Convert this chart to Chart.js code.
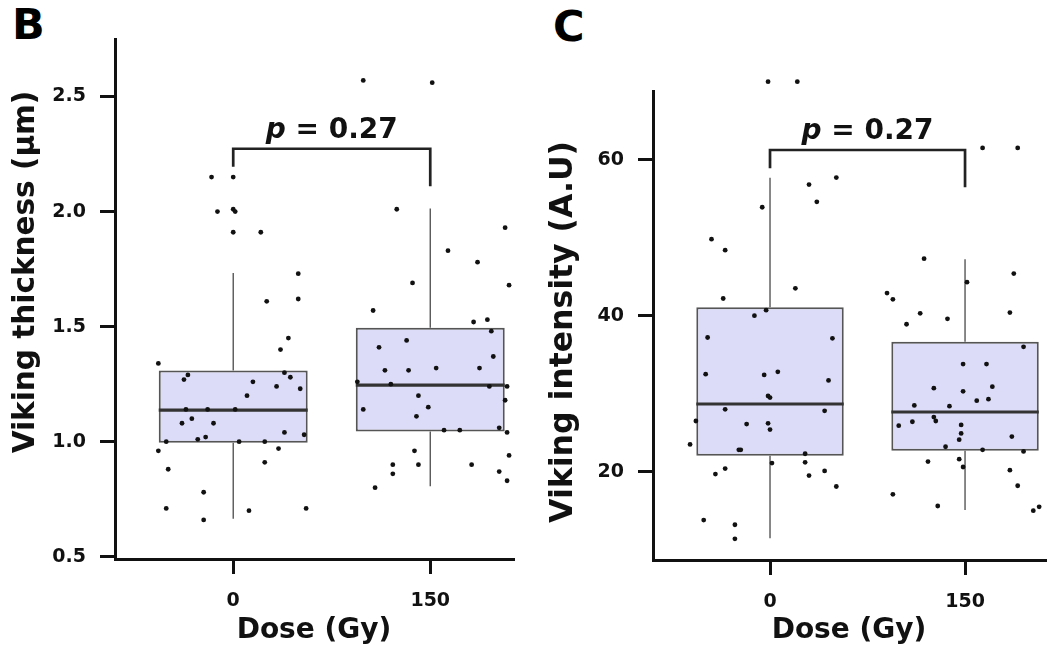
<!DOCTYPE html>
<html>
<head>
<meta charset="utf-8">
<script src="https://cdn.jsdelivr.net/npm/chart.js@4.4.1/dist/chart.umd.min.js"></script>
<style>
  body { margin: 0; background: #fff; width: 1049px; height: 648px; position: relative; overflow: hidden;
         font-family: "DejaVu Sans", Verdana, sans-serif; }
  .panel { position: absolute; top: 0; }
  .tag { position: absolute; font-weight: bold; font-size: 43px; line-height: 1; color: #000; }
</style>
</head>
<body>
<div class="tag" style="left:12px;top:3px">B</div>
<div class="tag" style="left:553px;top:5px">C</div>
<canvas id="chartB" class="panel" style="left:0" width="540" height="648"></canvas>
<canvas id="chartC" class="panel" style="left:540px" width="509" height="648"></canvas>
<script>
const doseLabels = ['0', '150'];

// --- Viking thickness (µm) ---
const thicknessTicks = [0.5, 1.0, 1.5, 2.0, 2.5];
const thicknessLow = [0.665, 0.806];
const thicknessQ1 = [0.995, 1.044];
const thicknessMedian = [1.137, 1.246];
const thicknessQ3 = [1.309, 1.495];
const thicknessHigh = [1.733, 2.013];
const thicknessBracket = [2.195, 2.273, 2.110]; // left foot, bar, right foot
const thicknessP = '0.27';

const thickness0 = [2.15, 2.15, 2.00, 2.01, 2.00, 1.91, 1.91, 1.73, 1.61, 1.62, 1.45, 1.40, 1.34, 1.29, 1.27,
  1.30, 1.28, 1.26, 1.24, 1.23, 1.20, 1.14, 1.14, 1.14, 1.08, 1.10, 1.08, 1.04, 1.03, 1.00, 1.01, 1.02,
  1.00, 1.00, 0.97, 0.96, 0.91, 0.88, 0.78, 0.71, 0.66, 0.70, 0.71];
const thickness0Jitter = [-0.11, 0.00, -0.08, 0.00, 0.01, 0.00, 0.14, 0.33, 0.17, 0.33, 0.28, 0.24, -0.38, -0.23, -0.25,
  0.26, 0.29, 0.10, 0.22, 0.34, 0.07, -0.24, -0.13, 0.01, -0.26, -0.21, -0.10, 0.26, 0.36, -0.34, -0.18, -0.14,
  0.03, 0.16, 0.23, -0.38, 0.16, -0.33, -0.15, -0.34, -0.15, 0.08, 0.37];
const thickness150 = [2.57, 2.56, 2.01, 1.93, 1.83, 1.78, 1.69, 1.68, 1.57, 1.52, 1.53, 1.48, 1.41, 1.44, 1.37,
  1.31, 1.31, 1.32, 1.32, 1.26, 1.25, 1.24, 1.24, 1.20, 1.14, 1.15, 1.18, 1.11, 1.05, 1.05, 1.06, 1.04,
  0.96, 0.94, 0.90, 0.90, 0.90, 0.86, 0.87, 0.83, 0.80];
const thickness150Jitter = [-0.34, 0.01, -0.17, 0.38, 0.09, 0.24, -0.09, 0.40, -0.29, 0.22, 0.29, 0.31, -0.26, -0.12, 0.32,
  -0.23, -0.11, 0.03, 0.25, -0.37, -0.20, 0.30, 0.39, -0.06, -0.34, -0.01, 0.38, -0.07, 0.07, 0.15, 0.35, 0.39,
  -0.08, 0.40, -0.19, -0.06, 0.21, -0.19, 0.35, 0.39, -0.28];

// --- Viking intensity (A.U) ---
const intensityTicks = [20, 40, 60];
const intensityLow = [11.46, 15.09];
const intensityQ1 = [22.05, 22.69];
const intensityMedian = [28.68, 27.65];
const intensityQ3 = [41.08, 36.67];
const intensityHigh = [57.69, 47.23];
const intensityBracket = [58.9, 61.24, 56.46];
const intensityP = '0.27';

const intensity0 = [70.0, 70.0, 53.9, 56.8, 57.7, 54.6, 49.8, 48.4, 43.5, 42.2, 40.7, 40.0, 37.2, 37.1,
  32.5, 32.4, 32.8, 31.7, 29.7, 29.5, 28.0, 27.8, 26.5, 26.1, 26.2, 25.4, 23.5, 22.8, 22.8, 22.3,
  21.1, 21.2, 20.4, 19.7, 20.1, 19.5, 18.1, 13.8, 13.2, 11.4];
const intensity0Jitter = [-0.01, 0.14, -0.04, 0.20, 0.34, 0.24, -0.30, -0.23, 0.13, -0.24, -0.02, -0.08, -0.32, 0.32,
  -0.33, -0.03, 0.04, 0.30, -0.01, 0.00, -0.23, 0.28, -0.38, -0.12, -0.01, 0.00, -0.41, -0.16, -0.15, 0.18,
  0.01, 0.18, -0.23, -0.28, 0.28, 0.20, 0.34, -0.34, -0.18, -0.18];
const intensity150 = [61.5, 61.5, 47.3, 44.3, 45.4, 42.9, 42.1, 40.3, 39.6, 38.9, 40.4, 36.0, 33.8, 33.8,
  30.7, 30.3, 30.9, 29.1, 29.3, 28.5, 28.4, 27.0, 26.5, 25.9, 26.4, 26.0, 24.9, 24.1, 24.5, 23.2,
  22.8, 22.6, 21.3, 21.6, 20.6, 20.2, 18.2, 17.1, 15.6, 15.0, 15.5];
const intensity150Jitter = [0.09, 0.27, -0.21, 0.01, 0.25, -0.40, -0.37, -0.23, -0.09, -0.30, 0.23, 0.30, -0.01, 0.11,
  -0.16, -0.01, 0.14, 0.06, 0.12, -0.26, -0.08, -0.16, -0.15, -0.34, -0.27, -0.02, -0.02, -0.03, 0.24, -0.10,
  0.09, 0.30, -0.19, -0.03, -0.01, 0.23, 0.27, -0.37, -0.14, 0.35, 0.38];

const FONT = '"DejaVu Sans", Verdana, sans-serif';
const INK = '#111';
const DOT_R = 2.4;

// whiskers behind the boxes, medians on top, then bracket label and y title
const boxPlugin = {
  id: 'boxplot',
  beforeDatasetsDraw(chart, args, opts) {
    const { ctx, scales: { x, y } } = chart;
    ctx.save();
    ctx.strokeStyle = '#4a4a4a';
    ctx.lineWidth = 1.3;
    opts.q1.forEach((q1, i) => {
      const px = x.getPixelForValue(i);
      ctx.beginPath();
      ctx.moveTo(px, y.getPixelForValue(opts.low[i]));
      ctx.lineTo(px, y.getPixelForValue(q1));
      ctx.moveTo(px, y.getPixelForValue(opts.q3[i]));
      ctx.lineTo(px, y.getPixelForValue(opts.high[i]));
      ctx.stroke();
    });
    ctx.restore();
  },
  afterDatasetDraw(chart, args, opts) {
    if (args.index !== 0) return;
    const { ctx, scales: { y } } = chart;
    const bars = args.meta.data;
    ctx.save();
    ctx.strokeStyle = '#333';
    ctx.lineWidth = 3.2;
    opts.median.forEach((m, i) => {
      const bar = bars[i];
      const py = y.getPixelForValue(m);
      ctx.beginPath();
      ctx.moveTo(bar.x - bar.width / 2, py);
      ctx.lineTo(bar.x + bar.width / 2, py);
      ctx.stroke();
    });
    ctx.restore();
  },
  afterDatasetsDraw(chart) {
    // Chart.js skips points outside the chart area; the top outliers still need a dot
    const { ctx, chartArea: a } = chart;
    ctx.save();
    ctx.fillStyle = INK;
    chart.getDatasetMeta(2).data.forEach((pt) => {
      if (pt.y < a.top || pt.y > a.bottom) {
        ctx.beginPath();
        ctx.arc(pt.x, pt.y, DOT_R, 0, Math.PI * 2);
        ctx.fill();
      }
    });
    ctx.restore();
  },
  afterDraw(chart, args, opts) {
    const { ctx, scales: { x, y } } = chart;
    const cx = x.getPixelForValue(0.5);
    const py = y.getPixelForValue(opts.bracketTop) - 11;
    const italic = `italic bold 28px ${FONT}`;
    const plain = `bold 28px ${FONT}`;
    const rest = ' = ' + opts.p;
    ctx.save();
    ctx.fillStyle = INK;
    ctx.textBaseline = 'alphabetic';
    ctx.textAlign = 'left';
    ctx.font = italic;
    const wp = ctx.measureText('p').width;
    ctx.font = plain;
    const wr = ctx.measureText(rest).width;
    const x0 = cx - (wp + wr) / 2;
    ctx.font = italic;
    ctx.fillText('p', x0, py);
    ctx.font = plain;
    ctx.fillText(rest, x0 + wp, py);

    // rotated y-axis title
    const t = opts.yTitle;
    ctx.translate(t.x, t.y);
    ctx.rotate(-Math.PI / 2);
    ctx.font = `bold ${t.size}px ${FONT}`;
    ctx.textAlign = 'center';
    ctx.textBaseline = 'middle';
    ctx.fillText(t.text, 0, 0);
    ctx.restore();
  },
};

function makePanel(id, p) {
  const points = (vals, jit, g) => vals.map((v, i) => ({ x: g + jit[i], y: v }));
  const bracket = [
    { x: 0, y: p.bracket[0] }, { x: 0, y: p.bracket[1] },
    { x: 1, y: p.bracket[1] }, { x: 1, y: p.bracket[2] },
  ];
  const tickFont = { family: FONT, size: 19, weight: 'bold' };

  new Chart(document.getElementById(id), {
    type: 'bar',
    data: {
      datasets: [
        {
          type: 'bar',
          data: p.q1.map((q, i) => ({ x: i, y: [q, p.q3[i]] })),
          backgroundColor: '#dcdcf8',
          borderColor: '#555',
          borderWidth: 2,
          borderSkipped: false,
          barPercentage: 1,
          categoryPercentage: 0.756,
          order: 3,
        },
        {
          type: 'line',
          data: bracket,
          borderColor: '#222',
          borderWidth: 2.7,
          pointRadius: 0,
          fill: false,
          clip: false,
          order: 2,
        },
        {
          type: 'scatter',
          data: points(p.g0, p.j0, 0).concat(points(p.g1, p.j1, 1)),
          pointRadius: DOT_R,
          pointBackgroundColor: INK,
          pointBorderWidth: 0,
          clip: false,
          order: 1,
        },
      ],
    },
    options: {
      responsive: false,
      animation: false,
      devicePixelRatio: 1,
      events: [],
      layout: { padding: { top: p.top, right: p.right, left: 0, bottom: 0 } },
      plugins: {
        legend: { display: false },
        tooltip: { enabled: false },
        boxplot: {
          low: p.low, q1: p.q1, median: p.median, q3: p.q3, high: p.high,
          bracketTop: p.bracket[1], p: p.pText, yTitle: p.yTitle,
        },
      },
      scales: {
        x: {
          type: 'linear',
          min: -0.6,
          max: p.xMax,
          offset: false,
          afterBuildTicks: (s) => { s.ticks = doseLabels.map((_, i) => ({ value: i })); },
          afterFit: (s) => { s.height = p.xHeight; },
          ticks: {
            callback: (v, i) => doseLabels[i],
            font: tickFont, color: INK, padding: 16, maxRotation: 0, autoSkip: false,
          },
          grid: { offset: false, drawOnChartArea: false, tickLength: 15, lineWidth: 3, color: INK },
          border: { display: true, width: 3, color: INK },
          title: { display: true, text: 'Dose (Gy)', font: { family: FONT, size: 28, weight: 'bold' }, color: INK, padding: 0 },
        },
        y: {
          type: 'linear',
          min: p.yMin,
          max: p.yMax,
          afterBuildTicks: (s) => { s.ticks = p.ticks.map((v) => ({ value: v })); },
          afterFit: (s) => { s.width = p.yWidth; },
          ticks: { callback: p.fmt, font: tickFont, color: INK, padding: 14 },
          grid: { offset: false, drawOnChartArea: false, tickLength: 15, lineWidth: 3, color: INK },
          border: { display: true, width: 3, color: INK },
          title: { display: false },
        },
      },
    },
    plugins: [boxPlugin],
  });
}

makePanel('chartB', {
  yTitle: { text: 'Viking thickness (µm)', x: 26, y: 272, size: 29.5 },
  ticks: thicknessTicks, fmt: (v) => v.toFixed(1),
  yMin: 0.49, yMax: 2.75, xMax: 1.42,
  top: 39, right: 27, yWidth: 115, xHeight: 89,
  low: thicknessLow, q1: thicknessQ1, median: thicknessMedian, q3: thicknessQ3, high: thicknessHigh,
  bracket: thicknessBracket, pText: thicknessP,
  g0: thickness0, j0: thickness0Jitter, g1: thickness150, j1: thickness150Jitter,
});

makePanel('chartC', {
  yTitle: { text: 'Viking intensity (A.U)', x: 24, y: 332, size: 31.5 },
  ticks: intensityTicks, fmt: (v) => String(v),
  yMin: 8.68, yMax: 68.8, xMax: 1.41,
  top: 91, right: 0, yWidth: 113, xHeight: 88,
  low: intensityLow, q1: intensityQ1, median: intensityMedian, q3: intensityQ3, high: intensityHigh,
  bracket: intensityBracket, pText: intensityP,
  g0: intensity0, j0: intensity0Jitter, g1: intensity150, j1: intensity150Jitter,
});
</script>
</body>
</html>
